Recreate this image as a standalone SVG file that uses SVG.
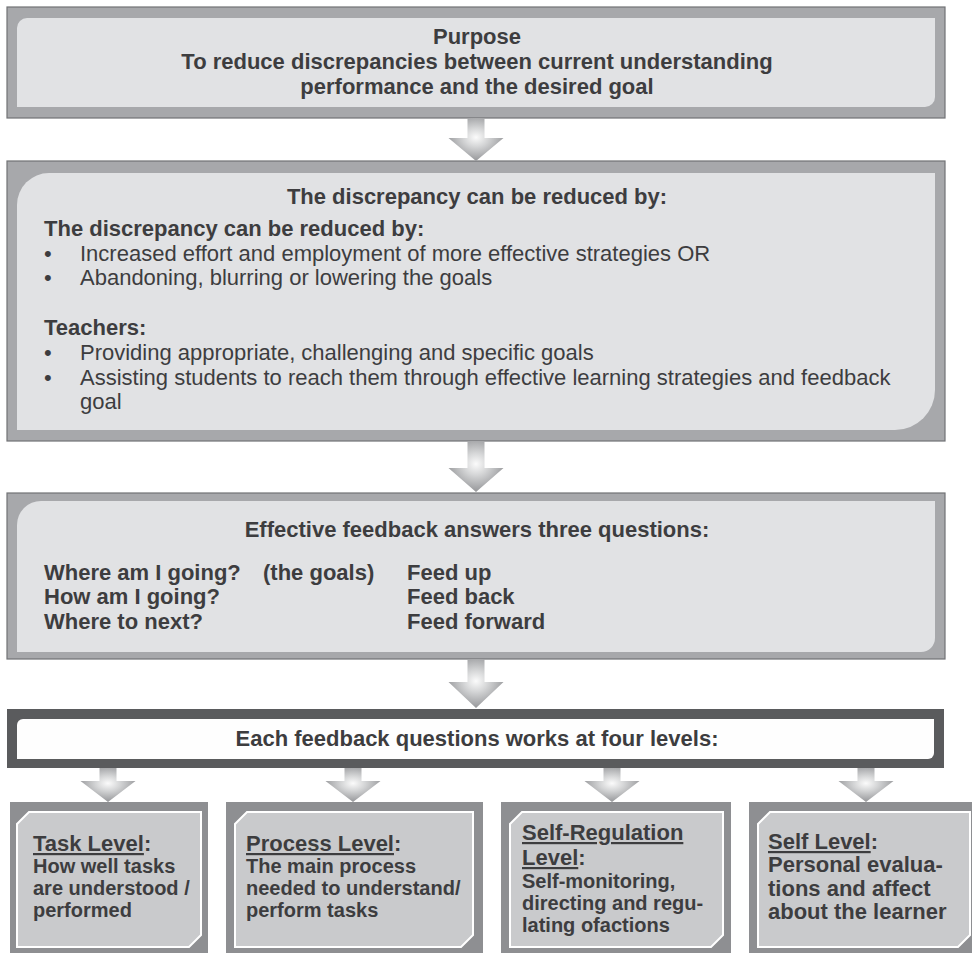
<svg xmlns="http://www.w3.org/2000/svg" width="972" height="953" viewBox="0 0 972 953">
<defs>
<radialGradient id="arrowGrad" cx="0.5" cy="0.45" r="0.6">
<stop offset="0" stop-color="#fbfbfb"/>
<stop offset="0.35" stop-color="#d6d7d8"/>
<stop offset="1" stop-color="#8c8d90"/>
</radialGradient>
<style>
.outer{fill:#a7a8ab;stroke:#717275;stroke-width:1.2}
.inner{fill:#e1e2e4}
.lvOuter{fill:#8e8f92}
.lvInner{fill:#c9cacc;stroke:#ffffff;stroke-width:2}
.arrow{fill:url(#arrowGrad)}
text{font-family:"Liberation Sans",Arial,sans-serif;fill:#3d3d3f}
.b{font-weight:bold;font-size:22px}
.r{font-size:22px}
.bs{font-weight:bold;font-size:20px}
.c{text-anchor:middle}
</style>
</defs>

<g id="purpose">
<rect class="outer" x="7" y="7" width="938" height="111"/>
<path class="inner" d="M17,28 A10,10 0 0 1 27,18 H935 V97 A10,10 0 0 1 925,107 H17 Z"/>
<text class="b c" x="477" y="44">Purpose</text>
<text class="b c" x="477" y="69">To reduce discrepancies between current understanding</text>
<text class="b c" x="477" y="94">performance and the desired goal</text>
</g>

<g id="discrepancy">
<rect class="outer" x="7" y="161" width="938" height="280"/>
<path class="inner" d="M17,205 A32,32 0 0 1 49,173 H935 V390 A40,40 0 0 1 895,430 H17 Z"/>
<text class="b c" x="477" y="204">The discrepancy can be reduced by:</text>
<text class="b" x="44" y="236">The discrepancy can be reduced by:</text>
<text class="r" x="44" y="261">•</text>
<text class="r" x="80" y="261">Increased effort and employment of more effective strategies OR</text>
<text class="r" x="44" y="285">•</text>
<text class="r" x="80" y="285">Abandoning, blurring or lowering the goals</text>
<text class="b" x="44" y="335">Teachers:</text>
<text class="r" x="44" y="360">•</text>
<text class="r" x="80" y="360">Providing appropriate, challenging and specific goals</text>
<text class="r" x="44" y="385">•</text>
<text class="r" x="80" y="385">Assisting students to reach them through effective learning strategies and feedback</text>
<text class="r" x="80" y="409">goal</text>
</g>

<g id="questions">
<rect class="outer" x="7" y="493" width="938" height="166"/>
<path class="inner" d="M17,525 A24,24 0 0 1 41,501 H935 V638 A14,14 0 0 1 921,652 H17 Z"/>
<text class="b c" x="477" y="537">Effective feedback answers three questions:</text>
<text class="b" x="44" y="580">Where am I going?</text>
<text class="b" x="263" y="580">(the goals)</text>
<text class="b" x="407" y="580">Feed up</text>
<text class="b" x="44" y="604">How am I going?</text>
<text class="b" x="407" y="604">Feed back</text>
<text class="b" x="44" y="629">Where to next?</text>
<text class="b" x="407" y="629">Feed forward</text>
</g>

<g id="levels-header">
<rect x="7" y="709" width="937" height="59" fill="#5a5b5d"/>
<path d="M17,725 A6,6 0 0 1 23,719 H934 V753 A6,6 0 0 1 928,759 H17 Z" fill="#fefefe"/>
<text class="b c" x="477" y="746">Each feedback questions works at four levels:</text>
</g>

<g id="task-level">
<rect class="lvOuter" x="10" y="802" width="198" height="151"/>
<path class="lvInner" d="M29,812 H201 V935 L189,947 H17 V824 Z"/>
<text class="b" x="33" y="851"><tspan text-decoration="underline">Task Level</tspan>:</text>
<text class="bs" x="33" y="873">How well tasks</text>
<text class="bs" x="33" y="895">are understood /</text>
<text class="bs" x="33" y="917">performed</text>
</g>

<g id="process-level">
<rect class="lvOuter" x="226" y="802" width="257" height="151"/>
<path class="lvInner" d="M247,812 H473 V935 L461,947 H235 V824 Z"/>
<text class="b" x="246" y="851"><tspan text-decoration="underline">Process Level</tspan>:</text>
<text class="bs" x="246" y="873">The main process</text>
<text class="bs" x="246" y="895">needed to understand/</text>
<text class="bs" x="246" y="917">perform tasks</text>
</g>

<g id="self-regulation-level">
<rect class="lvOuter" x="501" y="802" width="230" height="151"/>
<path class="lvInner" d="M522,812 H723 V935 L711,947 H510 V824 Z"/>
<text class="b" x="522" y="840"><tspan text-decoration="underline">Self-Regulation</tspan></text>
<text class="b" x="522" y="865"><tspan text-decoration="underline">Level</tspan>:</text>
<text class="bs" x="522" y="888">Self-monitoring,</text>
<text class="bs" x="522" y="910">directing and regu-</text>
<text class="bs" x="522" y="932">lating ofactions</text>
</g>

<g id="self-level">
<rect class="lvOuter" x="749" y="802" width="230" height="151"/>
<path class="lvInner" d="M770,812 H970 V935 L958,947 H758 V824 Z"/>
<text class="b" x="768" y="849"><tspan text-decoration="underline">Self Level</tspan>:</text>
<text class="b" x="768" y="872">Personal evalua-</text>
<text class="b" x="768" y="896">tions and affect</text>
<text class="b" x="768" y="919">about the learner</text>
</g>

<g id="connectors">
<path class="arrow" d="M467.5,118 H484.5 V138 H503.5 L476,161 L448.5,138 H467.5 Z"/>
<path class="arrow" d="M467.5,441 H484.5 V468 H503.5 L476,492 L448.5,468 H467.5 Z"/>
<path class="arrow" d="M467.5,659 H484.5 V682 H503.5 L476,708 L448.5,682 H467.5 Z"/>
<path class="arrow" d="M99.5,768 H116.5 V781 H135.5 L108,802 L80.5,781 H99.5 Z"/>
<path class="arrow" d="M344.5,768 H361.5 V781 H380.5 L353,802 L325.5,781 H344.5 Z"/>
<path class="arrow" d="M603.5,768 H620.5 V781 H639.5 L612,802 L584.5,781 H603.5 Z"/>
<path class="arrow" d="M857.5,768 H874.5 V781 H893.5 L866,802 L838.5,781 H857.5 Z"/>
</g>
</svg>
